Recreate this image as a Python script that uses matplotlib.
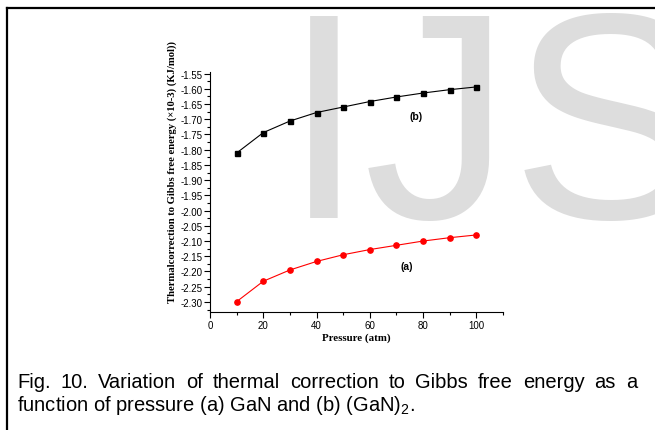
import numpy as np
import matplotlib
matplotlib.use('Agg')
import matplotlib.pyplot as plt
from matplotlib.lines import Line2D
from matplotlib.ticker import MultipleLocator, FormatStrFormatter

plt.rcParams['axes.unicode_minus'] = False
plt.rcParams['mathtext.fontset'] = 'custom'
plt.rcParams['mathtext.rm'] = 'Liberation Sans'
plt.rcParams['mathtext.it'] = 'Liberation Sans'

# pressure (atm)
pressure = [10, 20, 30, 40, 50, 60, 70, 80, 90, 100]
# (a) GaN
gan = [-2.299, -2.232, -2.195, -2.167, -2.145, -2.128, -2.114, -2.100, -2.089, -2.080]
# (b) (GaN)2
gan2 = [-1.811, -1.744, -1.706, -1.678, -1.660, -1.642, -1.627, -1.614, -1.603, -1.594]

caption1 = 'Fig. 10. Variation of thermal correction to Gibbs free energy as a'
caption2 = 'function of pressure (a) GaN and (b) (GaN)$_2$.'

W, H = 655, 431
fig = plt.figure(figsize=(W / 100, H / 100), dpi=100)

# watermark behind everything
fig.text(283 / W, (H - 218) / H, 'IJS', fontsize=212, color='#dddddd',
         family='Liberation Sans', ha='left', va='baseline', zorder=-1)

# page border (top and left)
fig.add_artist(Line2D([7 / W, 1.0], [1 - 9 / H, 1 - 9 / H], color='black', lw=1.6,
                      transform=fig.transFigure))
fig.add_artist(Line2D([7 / W, 7 / W], [0, 1 - 9 / H], color='black', lw=1.6,
                      transform=fig.transFigure))

ax = fig.add_axes([210 / W, (H - 313) / H, (503 - 210) / W, (313 - 73) / H])
ax.set_facecolor('none')

ax.plot(pressure, gan2, color='black', lw=0.8, marker='s', ms=3.6)
ax.plot(pressure, gan, color='red', lw=0.8, marker='o', ms=3.8)

ax.text(77.3, -1.688, '(b)', fontsize=7.5, fontweight='bold', family='Liberation Sans',
        ha='center', va='center')
ax.text(73.7, -2.181, '(a)', fontsize=7.5, fontweight='bold', family='Liberation Sans',
        ha='center', va='center')

ax.set_xlim(0, 110)
ax.set_ylim(-2.333, -1.545)
ax.xaxis.set_major_locator(MultipleLocator(20))
ax.xaxis.set_minor_locator(MultipleLocator(10))
ax.yaxis.set_major_locator(MultipleLocator(0.05))
ax.yaxis.set_minor_locator(MultipleLocator(0.025))
ax.yaxis.set_major_formatter(FormatStrFormatter('%.2f'))

for s in ['top', 'right']:
    ax.spines[s].set_visible(False)
for s in ['left', 'bottom']:
    ax.spines[s].set_linewidth(0.8)

ax.tick_params(which='major', direction='out', length=4, width=0.8, labelsize=7,
               pad=1.5)
ax.tick_params(which='minor', direction='out', length=2, width=0.8)
for lab in ax.get_xticklabels() + ax.get_yticklabels():
    lab.set_family('Liberation Sans')

ax.set_xlabel('Pressure (atm)', family='Liberation Serif', fontweight='bold',
              fontsize=7.8, labelpad=2)
fig.text(172 / W, (H - 172) / H,
         'Thermalcorrection to Gibbs free energy (\u00d710-3) (KJ/mol))',
         rotation=90, family='Liberation Serif', fontweight='bold', fontsize=7.7,
         ha='center', va='center')

# caption: first line justified from x=17 to x=637 px
cap_fs = 14.5
renderer = fig.canvas.get_renderer()
words = caption1.split(' ')
texts = [fig.text(0, (H - 383) / H, w, family='Liberation Sans', fontsize=cap_fs,
                  ha='left', va='center') for w in words]
widths = [t.get_window_extent(renderer).width for t in texts]
gap = (637 - 17 - sum(widths)) / (len(words) - 1)
xpos = 17
for t, w in zip(texts, widths):
    t.set_x(xpos / W)
    xpos += w + gap

fig.text(17 / W, (H - 406) / H, caption2,
         family='Liberation Sans', fontsize=cap_fs, ha='left', va='center')

fig.savefig('out.png', dpi=100)
